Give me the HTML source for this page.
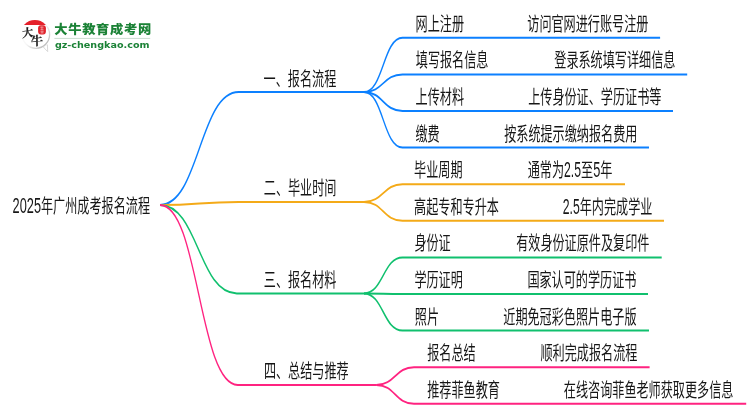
<!DOCTYPE html>
<html lang="zh-CN">
<head>
<meta charset="utf-8">
<title>2025年广州成考报名流程</title>
<style>
html,body{margin:0;padding:0;background:#fff;}
body{width:750px;height:410px;overflow:hidden;}
svg{display:block;will-change:transform;}
.t text{font-family:"Liberation Sans", "Noto Sans CJK SC", sans-serif;font-size:19px;fill:#161616;}
.p path{fill:none;stroke-width:2;stroke-linecap:butt;stroke-linejoin:round;}
</style>
</head>
<body>
<svg width="750" height="410" viewBox="0 0 750 410">
<rect width="750" height="410" fill="#fff"/>
<g transform="scale(0.638,1)">
<g class="p">
<path stroke="#0c80ff" d="M250.78,204.9 C312.46,204.9 312.46,92.1 374.14,92.1 H570.53"/>
<path stroke="#0c80ff" d="M570.53,92.1 C600.71,92.1 600.71,37.8 630.88,37.8 H1034.64"/>
<path stroke="#0c80ff" d="M570.53,92.1 C600.71,92.1 600.71,74.4 630.88,74.4 H1077.12"/>
<path stroke="#0c80ff" d="M570.53,92.1 C600.71,92.1 600.71,111.0 630.88,111.0 H1054.86"/>
<path stroke="#0c80ff" d="M570.53,92.1 C600.71,92.1 600.71,147.6 630.88,147.6 H1017.24"/>
<path stroke="#f4aa18" d="M250.78,204.9 C312.46,204.9 312.46,201.9 374.14,201.9 H570.53"/>
<path stroke="#f4aa18" d="M570.53,201.9 C600.71,201.9 600.71,184.2 630.88,184.2 H979.62"/>
<path stroke="#f4aa18" d="M570.53,201.9 C600.71,201.9 600.71,220.8 630.88,220.8 H1040.75"/>
<path stroke="#10c06e" d="M250.78,204.9 C310.97,204.9 310.97,293.4 371.16,293.4 H570.53"/>
<path stroke="#10c06e" d="M570.53,293.4 C600.71,293.4 600.71,257.4 630.88,257.4 H1037.15"/>
<path stroke="#10c06e" d="M570.53,293.4 C600.71,293.4 600.71,294.0 630.88,294.0 H1015.67"/>
<path stroke="#10c06e" d="M570.53,293.4 C600.71,293.4 600.71,330.6 630.88,330.6 H1017.24"/>
<path stroke="#ff2380" d="M250.78,204.9 C311.68,204.9 311.68,384.9 372.57,384.9 H589.81"/>
<path stroke="#ff2380" d="M589.81,384.9 C619.36,384.9 619.36,367.2 648.9,367.2 H1018.18"/>
<path stroke="#ff2380" d="M589.81,384.9 C619.36,384.9 619.36,403.8 648.9,403.8 H1169.59"/>
</g>
<g class="t">
<text x="19.75" y="213.5"><tspan font-size="21.9" textLength="44.51" lengthAdjust="spacingAndGlyphs">2025</tspan>年广州成考报名流程</text>
<text x="413.17" y="85.7">一、报名流程</text>
<text x="651.41" y="30.8">网上注册</text>
<text x="1016.3" y="30.8" text-anchor="end">访问官网进行账号注册</text>
<text x="651.72" y="67.5">填写报名信息</text>
<text x="1058.62" y="67.5" text-anchor="end">登录系统填写详细信息</text>
<text x="651.41" y="104.0">上传材料</text>
<text x="1036.68" y="104.0" text-anchor="end">上传身份证、学历证书等</text>
<text x="651.1" y="140.7">缴费</text>
<text x="999.06" y="140.7" text-anchor="end">按系统提示缴纳报名费用</text>
<text x="413.48" y="195.5">二、毕业时间</text>
<text x="649.06" y="177.2">毕业周期</text>
<text x="959.87" y="177.2" text-anchor="end">通常为<tspan font-size="21.9" textLength="26.65" lengthAdjust="spacingAndGlyphs">2.5</tspan>至<tspan font-size="21.9" textLength="11.13" lengthAdjust="spacingAndGlyphs">5</tspan>年</text>
<text x="649.06" y="213.9">高起专和专升本</text>
<text x="1022.57" y="213.9" text-anchor="end"><tspan font-size="21.9" textLength="26.65" lengthAdjust="spacingAndGlyphs">2.5</tspan>年内完成学业</text>
<text x="413.48" y="287.0">三、报名材料</text>
<text x="649.53" y="250.5">身份证</text>
<text x="1017.87" y="250.5" text-anchor="end">有效身份证原件及复印件</text>
<text x="649.53" y="287.1">学历证明</text>
<text x="997.49" y="287.1" text-anchor="end">国家认可的学历证书</text>
<text x="650.16" y="323.7">照片</text>
<text x="997.65" y="323.7" text-anchor="end">近期免冠彩色照片电子版</text>
<text x="413.64" y="378.5">四、总结与推荐</text>
<text x="669.59" y="360.3">报名总结</text>
<text x="999.06" y="360.3" text-anchor="end">顺利完成报名流程</text>
<text x="669.59" y="396.9">推荐菲鱼教育</text>
<text x="1149.53" y="396.9" text-anchor="end">在线咨询菲鱼老师获取更多信息</text>
</g>
</g>
<g id="logo">
<defs>
<linearGradient id="lg" x1="0.1" y1="0.1" x2="0.9" y2="0.9">
<stop offset="0" stop-color="#ffffff"/><stop offset="0.5" stop-color="#f6f6f6"/><stop offset="0.8" stop-color="#d2d2d2"/><stop offset="1" stop-color="#b4b4b4"/>
</linearGradient>
<clipPath id="capclip"><rect x="20" y="18" width="34" height="6.9"/></clipPath>
</defs>
<path d="M43.6,47.4 L47.7,51.6 L47.4,44.8 Z" fill="#fff" stroke="#cfcfcf" stroke-width="0.8" stroke-linejoin="round"/>
<circle cx="35.9" cy="34.6" r="13.7" fill="#fff" stroke="url(#lg)" stroke-width="1.3"/>
<path d="M44.2,46.6 L47.0,49.9 L46.9,45.0 Z" fill="#fff"/>
<circle cx="34.9" cy="34.9" r="14.8" fill="#e5202a" clip-path="url(#capclip)"/>
<rect x="38.1" y="25.3" width="7.8" height="9.2" rx="2.8" ry="3" fill="#e0232c"/>
<path d="M40.2,27.2 h3.4 M41.9,26.4 v3.6 M40.4,29.3 h3.2 M40.3,31.2 h3.6 M42,30.6 v2.6 M40.6,32.9 h3" stroke="#f7c9cb" stroke-width="0.55" fill="none"/>
<text transform="translate(22.2,37.5) rotate(-8) skewX(-6)" font-family="'Liberation Serif','Noto Serif CJK SC',serif" font-size="11.2" font-weight="700" fill="#1c1c1c" stroke="#1c1c1c" stroke-width="0.25">大</text>
<text transform="translate(31.0,45.8) rotate(-5) skewX(-4)" font-family="'Liberation Serif','Noto Serif CJK SC',serif" font-size="12.2" font-weight="700" fill="#1c1c1c" stroke="#1c1c1c" stroke-width="0.25">牛</text>
<text transform="translate(54.2,34.3) scale(1,0.94)" font-family="'Liberation Sans','Noto Sans CJK SC',sans-serif" font-size="13.3" font-weight="900" fill="#1b8236" textLength="97.1" lengthAdjust="spacing">大牛教育成考网</text>
<rect x="54.4" y="37.9" width="95.8" height="1.1" fill="#cfe0d4"/>
<text x="54.9" y="48" font-family="'DejaVu Sans',sans-serif" font-size="9.5" font-weight="700" fill="#1b8236" textLength="94.6" lengthAdjust="spacingAndGlyphs">gz-chengkao.com</text>
</g>

</svg>
</body>
</html>
